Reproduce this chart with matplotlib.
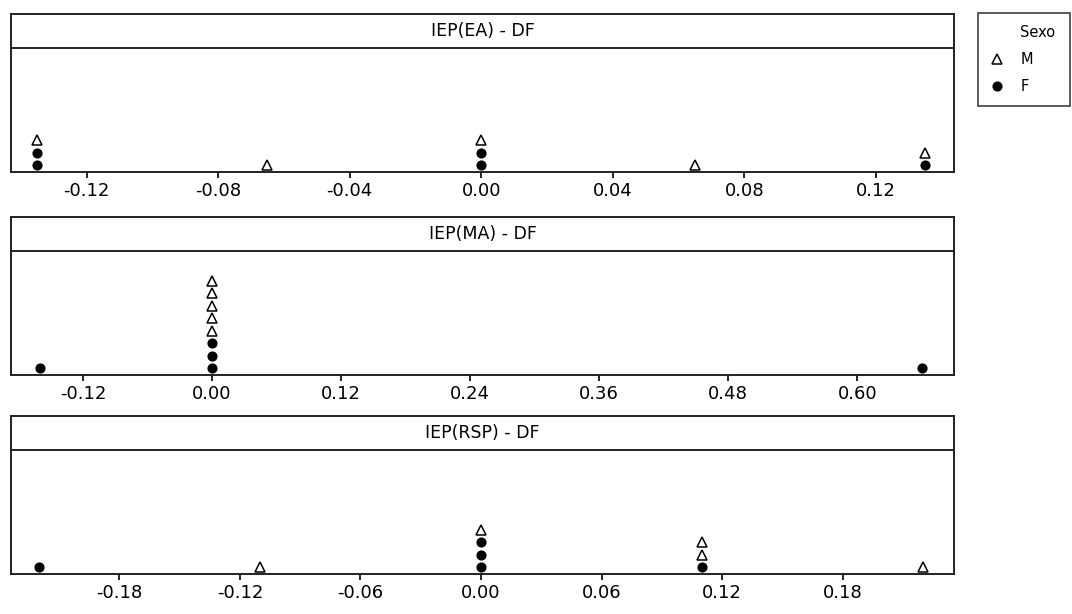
import matplotlib.pyplot as plt
from matplotlib.lines import Line2D
from collections import Counter

# values read from the dotplot (Sexo: M = triangle, F = dot)
titles = ['IEP(EA) - DF', 'IEP(MA) - DF', 'IEP(RSP) - DF']
f_vals = [
    [-0.135, -0.135, 0.0, 0.0, 0.135],
    [-0.16, 0.0, 0.0, 0.0, 0.66],
    [-0.22, 0.0, 0.0, 0.0, 0.11],
]
m_vals = [
    [-0.135, -0.065, 0.0, 0.065, 0.135],
    [0.0, 0.0, 0.0, 0.0, 0.0],
    [-0.11, 0.0, 0.11, 0.11, 0.22],
]
ticks = [
    [-0.12, -0.08, -0.04, 0.0, 0.04, 0.08, 0.12],
    [-0.12, 0.0, 0.12, 0.24, 0.36, 0.48, 0.60],
    [-0.18, -0.12, -0.06, 0.0, 0.06, 0.12, 0.18],
]
xlims = [(-0.143, 0.1438), (-0.187, 0.690), (-0.234, 0.2355)]

W, H = 1072, 614
fig = plt.figure(figsize=(W / 100, H / 100), dpi=100)
plt.rcParams['font.family'] = 'DejaVu Sans'

left, right = 11, 954
strip_tops = [14, 217, 416]
strip_h = 34
plot_h = 124
step = 12.5   # stacking step in pixels
base = 7
lw = 1.4

tri_kw = dict(marker='^', markersize=7.2, markerfacecolor='white',
              markeredgecolor='black', markeredgewidth=1.1, linestyle='none')
dot_kw = dict(marker='o', markersize=6.3, color='black', linestyle='none')


def fx(px):
    return px / W


def fy(py):
    return 1 - py / H


for i in range(3):
    top = strip_tops[i]
    ax = fig.add_axes([fx(left), fy(top + strip_h + plot_h), fx(right - left), plot_h / H])
    ax.set_facecolor('none')
    ax.set_xlim(*xlims[i])
    ax.set_ylim(0, plot_h)
    ax.spines['top'].set_visible(False)
    for s in ['left', 'right', 'bottom']:
        ax.spines[s].set_linewidth(lw)
        ax.spines[s].set_color('#222222')
    ax.set_yticks([])
    ax.set_xticks(ticks[i])
    ax.set_xticklabels([f"{t:.2f}" for t in ticks[i]], fontsize=13)
    ax.tick_params(axis='x', direction='out', length=4.5, width=1.2, pad=2.5)

    counts = Counter()
    fx_pts, fy_pts = [], []
    for v in f_vals[i]:
        fx_pts.append(v)
        fy_pts.append(base + step * counts[v])
        counts[v] += 1
    mx_pts, my_pts = [], []
    for v in m_vals[i]:
        mx_pts.append(v)
        my_pts.append(base + step * counts[v])
        counts[v] += 1
    ax.plot(fx_pts, fy_pts, **dot_kw, clip_on=False)
    ax.plot(mx_pts, my_pts, **tri_kw, clip_on=False)

    # strip panel on top
    sax = fig.add_axes([fx(left), fy(top + strip_h), fx(right - left), strip_h / H])
    sax.set_facecolor('none')
    sax.set_xticks([])
    sax.set_yticks([])
    for s in sax.spines.values():
        s.set_linewidth(lw)
        s.set_color('#222222')
    sax.text(0.5, 0.5, titles[i], ha='center', va='center', fontsize=12.5,
             transform=sax.transAxes)

# legend box: blank first entry acts as the "Sexo" title, aligned with labels
handles = [Line2D([], [], linestyle='none'), Line2D([], [], **tri_kw),
           Line2D([], [], **dot_kw)]
leg = fig.legend(handles, ['Sexo', 'M', 'F'], loc='upper left',
                 bbox_to_anchor=(fx(978), fy(106), fx(1070 - 978), 93 / H),
                 mode='expand', fontsize=10.5,
                 frameon=True, fancybox=False, edgecolor='#222222',
                 handlelength=1.0, handletextpad=1.1, borderpad=0.8,
                 labelspacing=0.85, borderaxespad=0)
leg.get_frame().set_linewidth(1.3)

fig.savefig('out.png', dpi=100)
